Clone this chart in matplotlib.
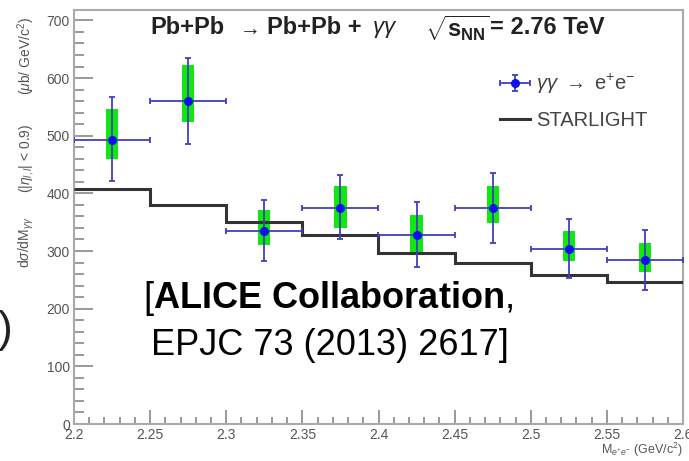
import matplotlib
matplotlib.use("Agg")
import matplotlib.pyplot as plt
from matplotlib.ticker import MultipleLocator, FuncFormatter
from matplotlib.lines import Line2D
from matplotlib.legend_handler import HandlerErrorbar
from matplotlib.container import ErrorbarContainer

plt.rcParams['font.family'] = ['Liberation Sans', 'DejaVu Sans']
plt.rcParams['mathtext.fontset'] = 'custom'
plt.rcParams['mathtext.rm'] = 'Liberation Sans'
plt.rcParams['mathtext.it'] = 'Liberation Sans:italic'
plt.rcParams['mathtext.bf'] = 'Liberation Sans:bold'

# Data
bin_edges = [2.2, 2.25, 2.3, 2.35, 2.4, 2.45, 2.5, 2.55, 2.6]
mass = [2.225, 2.275, 2.325, 2.375, 2.425, 2.475, 2.525, 2.575]
xsec = [493, 561, 335, 374, 327, 374, 303, 284]
stat_up = [567, 635, 389, 431, 385, 436, 356, 337]
stat_lo = [421, 486, 283, 320, 273, 314, 254, 232]
sys_up = [547, 622, 372, 413, 362, 412, 334, 314]
sys_lo = [460, 523, 311, 340, 295, 348, 282, 263]
starlight = [407, 379, 351, 327, 296, 279, 259, 246]

W, H = 689, 461
fig = plt.figure(figsize=(6.89, 4.61), dpi=100)
ax = fig.add_axes([74/W, 37/H, 609/W, 414/H])

gray = '#888888'
txtgray = '#555555'

def fx(px):
    return px / W

def fy(py):
    return 1 - py / H

# systematic boxes
ax.bar(mass, [u - l for u, l in zip(sys_up, sys_lo)], bottom=sys_lo,
       width=0.008, color='#10e810', edgecolor='none', zorder=2)

# STARLIGHT
ax.stairs(starlight, bin_edges, baseline=None, color='#333333', lw=2.2, zorder=3)

# data with stat errors
yerr = [[v - l for v, l in zip(xsec, stat_lo)], [u - v for u, v in zip(stat_up, xsec)]]
eb = ax.errorbar(mass, xsec, xerr=0.025, yerr=yerr, fmt='o', color='#1010ee',
                 ecolor='#4040c0', elinewidth=1.3, capsize=2, capthick=1.3,
                 markersize=5.5, zorder=4)

ax.set_xlim(2.2, 2.6)
ax.set_ylim(0, 718)
ax.xaxis.set_major_locator(MultipleLocator(0.05))
ax.xaxis.set_minor_locator(MultipleLocator(0.01))
ax.yaxis.set_major_locator(MultipleLocator(100))
ax.yaxis.set_minor_locator(MultipleLocator(20))
ax.xaxis.set_major_formatter(FuncFormatter(lambda v, p: f"{v:.2f}".rstrip('0').rstrip('.')))
ax.tick_params(axis='both', which='both', direction='in', colors=gray,
               labelcolor=txtgray, labelsize=10, width=1.2)
ax.tick_params(axis='y', which='major', length=14, pad=3)
ax.tick_params(axis='y', which='minor', length=7)
ax.tick_params(axis='x', which='major', length=10, pad=3)
ax.tick_params(axis='x', which='minor', length=5)
for s in ax.spines.values():
    s.set_color('#aaaaaa')
    s.set_linewidth(1.5)

# y label pieces (ROOT-style, rotated)
ylab_kw = dict(rotation=90, ha='center', va='center', fontsize=10, color=txtgray)
fig.text(fx(26), fy(56), r"($\mu$b/ GeV/c$^{2}$)", **ylab_kw)
fig.text(fx(26), fy(158), r"(|$\eta_{l,l}$| < 0.9)", **ylab_kw)
fig.text(fx(26), fy(242), r"d$\sigma$/dM$_{\gamma\gamma}$", **ylab_kw)

fig.text(fx(683), fy(450), r"M$_{e^{+}e^{-}}$ (GeV/c$^{2}$)",
         ha='right', va='center', fontsize=9, color=txtgray)

# title pieces
tkw = dict(ha='left', va='center', fontsize=17, fontweight='bold', color='#222222')
fig.text(fx(150), fy(28), "Pb+Pb", **tkw)
fig.text(fx(236), fy(29), r"$\rightarrow$", ha='left', va='center', fontsize=15, color='#222222')
fig.text(fx(267), fy(28), "Pb+Pb +", **tkw)
fig.text(fx(372), fy(30), r"$\gamma\gamma$", ha='left', va='center', fontsize=16, color='#222222')
fig.text(fx(425), fy(28), r"$\sqrt{\mathbf{s}_{\mathbf{NN}}}$", **tkw)
fig.text(fx(490), fy(28), "= 2.76 TeV", **tkw)

# legend
h2 = Line2D([], [], color='#333333', lw=2.2)
leg = ax.legend([eb, h2], [r"$\gamma\gamma$ $\rightarrow$ e$^{+}$e$^{-}$", "STARLIGHT"],
                loc='upper left', bbox_to_anchor=(418/609, 1 - 54/414),
                frameon=False, fontsize=14.5, handlelength=1.5, labelspacing=0.75,
                handletextpad=0.3, borderaxespad=0,
                handler_map={ErrorbarContainer: HandlerErrorbar(xerr_size=0.75, yerr_size=0.4)})
for t in leg.get_texts():
    t.set_color('#444444')

# annotation text
fig.text(fx(328), fy(298), r"[$\mathbf{ALICE\ Collaboration}$,",
         ha='center', va='center', fontsize=26, color='black')
fig.text(fx(330), fy(345), "EPJC 73 (2013) 2617]",
         ha='center', va='center', fontsize=26, color='black')
fig.text(fx(-2), fy(330), ")", ha='left', va='center', fontsize=32, color='#222222')

fig.savefig("out.png", dpi=100)
